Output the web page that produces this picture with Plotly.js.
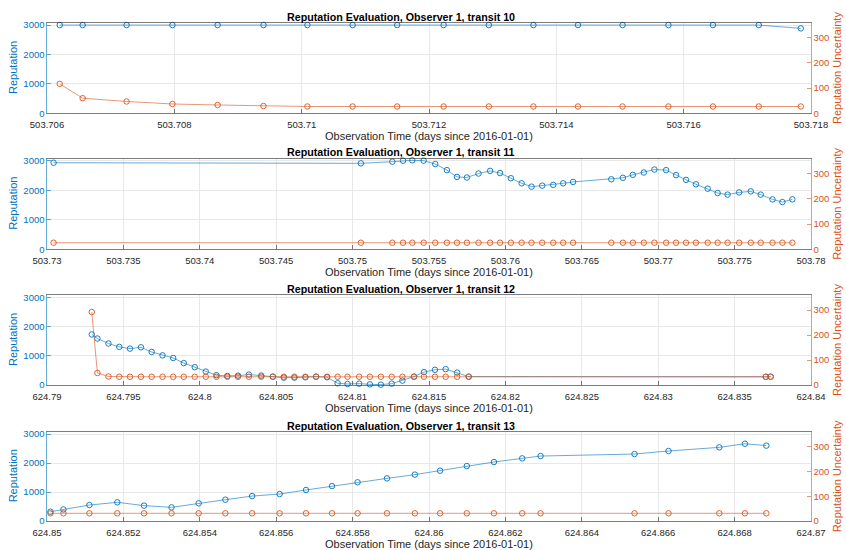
<!DOCTYPE html>
<html>
<head>
<meta charset="utf-8">
<script src="https://cdn.plot.ly/plotly-3.0.1.min.js"></script>
<style>
html,body{margin:0;padding:0;background:#fff;}
#chart{width:846px;height:550px;}
</style>
</head>
<body>
<div id="chart"></div>
<script>
// ---------------- DATA ----------------
const panelTitles = [
  "Reputation Evaluation, Observer 1, transit 10",
  "Reputation Evaluation, Observer 1, transit 11",
  "Reputation Evaluation, Observer 1, transit 12",
  "Reputation Evaluation, Observer 1, transit 13"
];
const xTitle = "Observation Time (days since 2016-01-01)";
const yLeftTitle = "Reputation";
const yRightTitle = "Reputation Uncertainty";

const repTicks = [0, 1000, 2000, 3000];
const uncTicks = [0, 100, 200, 300];

// transit 10
const t10Ticks = [503.706, 503.708, 503.71, 503.712, 503.714, 503.716, 503.718];
const t10Time = [503.70620, 503.70656, 503.70725, 503.70797, 503.70868, 503.70940, 503.71009, 503.71080, 503.71150,
                 503.71223, 503.71294, 503.71364, 503.71434, 503.71504, 503.71576, 503.71646, 503.71718, 503.71784];
const t10Rep  = [3000, 3000, 3000, 3000, 3000, 3000, 3000, 3000, 3000,
                 3000, 3000, 3000, 3000, 3000, 3000, 3000, 3000, 2887];
const t10Unc  = [117, 60, 47, 37, 33, 29, 27, 27, 27,
                 27, 27, 27, 27, 27, 27, 27, 27, 27];

// transit 11
const t11Ticks = [503.73, 503.735, 503.74, 503.745, 503.75, 503.755, 503.76, 503.765, 503.77, 503.775, 503.78];
const t11Time = [503.73043, 503.75054, 503.75260, 503.75330, 503.75391, 503.75465, 503.75541, 503.75617, 503.75683, 503.75748,
                 503.75824, 503.75900, 503.75965, 503.76036, 503.76106, 503.76171, 503.76241, 503.76313, 503.76378, 503.76443,
                 503.76693, 503.76769, 503.76834, 503.76906, 503.76975, 503.77052, 503.77117, 503.77182, 503.77247, 503.77324,
                 503.77389, 503.77454, 503.77530, 503.77606, 503.77671, 503.77748, 503.77813, 503.77878];
const t11Rep  = [2930, 2910, 2965, 3000, 3010, 3000, 2885, 2680, 2450, 2430,
                 2565, 2655, 2580, 2405, 2235, 2120, 2155, 2180, 2235, 2280,
                 2370, 2420, 2520, 2600, 2700, 2680, 2510, 2350, 2200, 2050,
                 1905, 1850, 1925, 1960, 1850, 1690, 1600, 1690];
const t11Unc  = [26, 26, 26, 26, 26, 26, 26, 26, 26, 26,
                 26, 26, 26, 26, 26, 26, 26, 26, 26, 26,
                 26, 26, 26, 26, 26, 26, 26, 26, 26, 26,
                 26, 26, 26, 26, 26, 26, 26, 26];

// transit 12
const t12Ticks = [624.79, 624.795, 624.8, 624.805, 624.81, 624.815, 624.82, 624.825, 624.83, 624.835, 624.84];
const t12Time = [624.79293, 624.79330, 624.79402, 624.79473, 624.79543, 624.79615, 624.79685, 624.79756, 624.79826, 624.79895,
                 624.79967, 624.80039, 624.80109, 624.80180, 624.80250, 624.80321, 624.80402, 624.80478, 624.80550, 624.80619,
                 624.80691, 624.80761, 624.80833, 624.80902, 624.80967, 624.81043, 624.81113, 624.81185, 624.81256, 624.81326,
                 624.81402, 624.81467, 624.81539, 624.81609, 624.81684, 624.81760, 624.83704, 624.83736];
const t12Rep  = [1730, 1590, 1420, 1305, 1245, 1290, 1130, 1015, 925, 750,
                 610, 460, 335, 310, 320, 357, 322, 288, 253, 253,
                 265, 288, 265, 59, 35, 47, 23, 12, 47, 150,
                 288, 440, 520, 543, 425, 287, 280, 285];
const t12Unc  = [292, 48, 34, 33, 33, 33, 33, 33, 33, 33,
                 33, 33, 33, 33, 33, 33, 33, 33, 33, 33,
                 33, 33, 33, 33, 33, 33, 33, 33, 33, 33,
                 33, 33, 33, 33, 33, 33, 33, 33];

// transit 13
const t13Ticks = [624.85, 624.852, 624.854, 624.856, 624.858, 624.86, 624.862, 624.864, 624.866, 624.868, 624.87];
const t13Time = [624.85009, 624.85043, 624.85111, 624.85184, 624.85254, 624.85326, 624.85397, 624.85467, 624.85537, 624.85609,
                 624.85678, 624.85746, 624.85813, 624.85890, 624.85963, 624.86029, 624.86099, 624.86170, 624.86244, 624.86292,
                 624.86538, 624.86627, 624.86760, 624.86827, 624.86883];
const t13Rep  = [320, 400, 550, 645, 530, 470, 610, 735, 860, 930,
                 1070, 1205, 1335, 1470, 1600, 1735, 1895, 2035, 2160, 2240,
                 2310, 2415, 2540, 2665, 2600];
const t13Unc  = [31, 31, 31, 31, 31, 31, 31, 31, 31, 31,
                 31, 31, 31, 31, 31, 31, 31, 31, 31, 31,
                 31, 31, 31, 31, 31];

// ---------------- LAYOUT / STYLE ----------------
const W = 846, H = 550;
const PL = 47, PR = 811;
const tops = [22.7, 158.3, 295, 431.7];
const bottoms = [113.3, 249.3, 385, 521];
const BLUE = '#0072BD', ORANGE = '#D95319', DARK = '#262626', GRID = '#e8e8e8';
const FONT = 'Liberation Sans, Arial, Helvetica, sans-serif';
const TITLE_X = (400.5 - PL) / (PR - PL);

const panels = [
  {time: t10Time, rep: t10Rep, unc: t10Unc, ticks: t10Ticks},
  {time: t11Time, rep: t11Rep, unc: t11Unc, ticks: t11Ticks},
  {time: t12Time, rep: t12Rep, unc: t12Unc, ticks: t12Ticks},
  {time: t13Time, rep: t13Rep, unc: t13Unc, ticks: t13Ticks}
];

const data = [];
const layout = {
  width: W, height: H,
  margin: {l: PL, r: W - PR, t: 0, b: 0, pad: 0},
  paper_bgcolor: '#fff', plot_bgcolor: '#fff',
  showlegend: false,
  font: {family: FONT, color: DARK},
  annotations: []
};

panels.forEach((p, i) => {
  const k = i + 1;
  const xk = k === 1 ? '' : String(k);
  const yl = 2 * k - 1, yr = 2 * k;
  const ylk = yl === 1 ? '' : String(yl);
  const yrk = String(yr);
  const dom = [1 - bottoms[i] / H, 1 - tops[i] / H];

  data.push({
    x: p.time, y: p.rep, type: 'scatter', mode: 'lines+markers',
    xaxis: 'x' + xk, yaxis: 'y' + ylk,
    line: {color: BLUE, width: 0.6},
    marker: {symbol: 'circle-open', size: 5.5, color: BLUE, line: {width: 0.9, color: BLUE}},
    cliponaxis: false
  });
  data.push({
    x: p.time, y: p.unc, type: 'scatter', mode: 'lines+markers',
    xaxis: 'x' + xk, yaxis: 'y' + yrk,
    line: {color: ORANGE, width: 0.6},
    marker: {symbol: 'circle-open', size: 5.5, color: ORANGE, line: {width: 0.9, color: ORANGE}},
    cliponaxis: false
  });

  layout['xaxis' + xk] = {
    domain: [0, 1], anchor: 'y' + ylk,
    range: [p.ticks[0], p.ticks[p.ticks.length - 1]],
    tickmode: 'array', tickvals: p.ticks, ticktext: p.ticks.map(v => String(v)),
    ticks: 'inside', ticklen: 4, tickcolor: DARK, tickwidth: 0.6,
    ticklabelstandoff: 3,
    showgrid: true, gridcolor: GRID, gridwidth: 1,
    showline: true, linecolor: DARK, linewidth: 0.6, mirror: true,
    zeroline: false, tickfont: {size: 9.5, color: DARK, family: FONT}
  };
  layout['yaxis' + ylk] = {
    domain: dom, anchor: 'x' + xk, side: 'left',
    range: [0, 3080],
    tickmode: 'array', tickvals: repTicks, ticktext: repTicks.map(v => String(v)),
    ticks: 'inside', ticklen: 4, tickcolor: BLUE, tickwidth: 0.6,
    showgrid: true, gridcolor: GRID, gridwidth: 1,
    showline: true, linecolor: BLUE, linewidth: 0.6,
    zeroline: false, tickfont: {size: 9.5, color: BLUE, family: FONT}
  };
  layout['yaxis' + yrk] = {
    overlaying: 'y' + ylk, anchor: 'x' + xk, side: 'right',
    range: [0, 360],
    tickmode: 'array', tickvals: uncTicks, ticktext: uncTicks.map(v => String(v)),
    ticks: 'inside', ticklen: 4, tickcolor: ORANGE, tickwidth: 0.6,
    showgrid: false,
    showline: true, linecolor: ORANGE, linewidth: 0.6,
    zeroline: false, tickfont: {size: 9.5, color: ORANGE, family: FONT}
  };

  // panel title
  layout.annotations.push({
    text: '<b>' + panelTitles[i] + '</b>', xref: 'paper', yref: 'paper',
    x: TITLE_X, y: dom[1], xanchor: 'center', yanchor: 'middle', yshift: 6,
    showarrow: false, font: {size: 10.7, color: '#000', family: FONT}
  });
  // x title
  layout.annotations.push({
    text: xTitle, xref: 'paper', yref: 'paper',
    x: 0.5, y: dom[0], xanchor: 'center', yanchor: 'middle', yshift: -23,
    showarrow: false, font: {size: 11, color: DARK, family: FONT}
  });
  // left y title
  layout.annotations.push({
    text: yLeftTitle, xref: 'paper', yref: 'paper', textangle: -90,
    x: 0, y: (dom[0] + dom[1]) / 2, xanchor: 'center', yanchor: 'middle', xshift: -34,
    showarrow: false, font: {size: 11, color: BLUE, family: FONT}
  });
  // right y title
  layout.annotations.push({
    text: yRightTitle, xref: 'paper', yref: 'paper', textangle: -90,
    x: 1, y: (dom[0] + dom[1]) / 2, xanchor: 'center', yanchor: 'middle', xshift: 26,
    showarrow: false, font: {size: 11, color: ORANGE, family: FONT}
  });
});

Plotly.newPlot('chart', data, layout, {displayModeBar: false, staticPlot: true});
</script>
</body>
</html>
